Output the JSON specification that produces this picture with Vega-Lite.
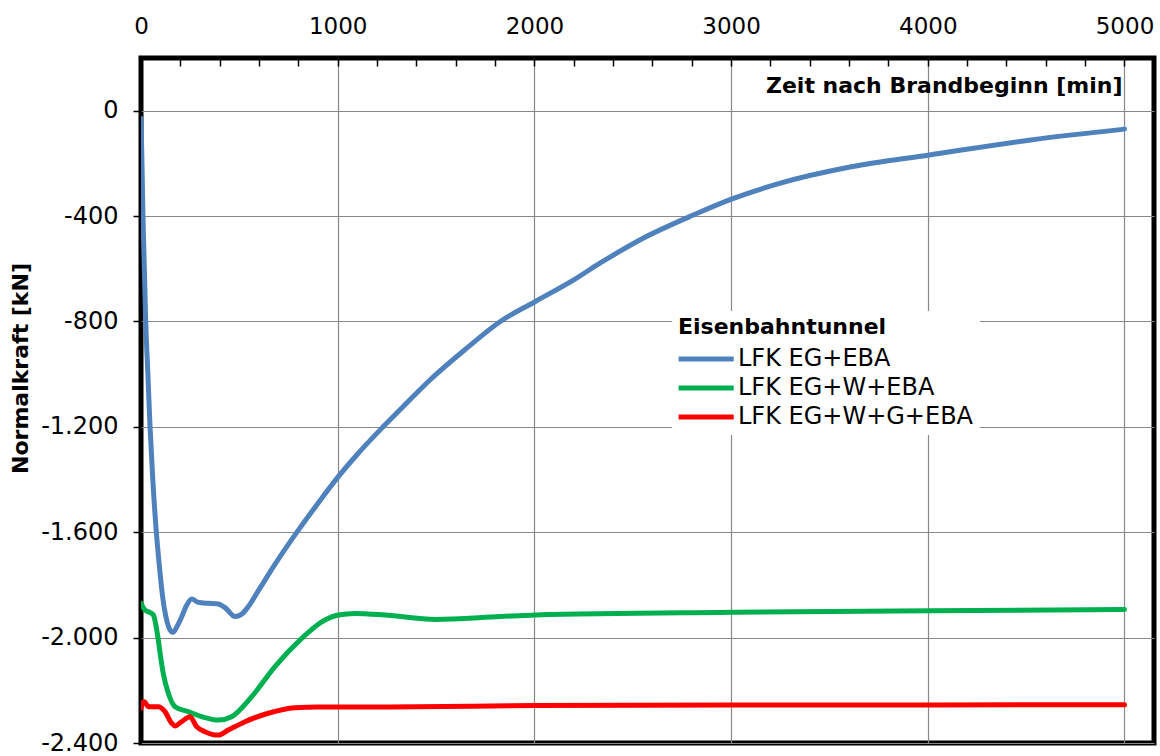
{
  "$schema": "https://vega.github.io/schema/vega-lite/v6.json",
  "width": 1013,
  "height": 685,
  "autosize": "none",
  "padding": {"left": 141, "top": 58, "right": 6, "bottom": 13},
  "background": "white",
  "config": {
    "locale": {"number": {"decimal": ",", "thousands": ".", "grouping": [3], "currency": ["", " €"], "minus": "-"}},
    "view": {"stroke": "black", "strokeWidth": 5},
    "font": "DejaVu Sans"
  },
  "data": {
    "values": [
      {"t": 0, "n": -30, "s": "LFK EG+EBA"},
      {"t": 5, "n": -200, "s": "LFK EG+EBA"},
      {"t": 10, "n": -400, "s": "LFK EG+EBA"},
      {"t": 17, "n": -600, "s": "LFK EG+EBA"},
      {"t": 24, "n": -800, "s": "LFK EG+EBA"},
      {"t": 35, "n": -1000, "s": "LFK EG+EBA"},
      {"t": 46, "n": -1200, "s": "LFK EG+EBA"},
      {"t": 60, "n": -1400, "s": "LFK EG+EBA"},
      {"t": 78, "n": -1600, "s": "LFK EG+EBA"},
      {"t": 95, "n": -1740, "s": "LFK EG+EBA"},
      {"t": 110, "n": -1845, "s": "LFK EG+EBA"},
      {"t": 125, "n": -1915, "s": "LFK EG+EBA"},
      {"t": 140, "n": -1958, "s": "LFK EG+EBA"},
      {"t": 162, "n": -1980, "s": "LFK EG+EBA"},
      {"t": 185, "n": -1955, "s": "LFK EG+EBA"},
      {"t": 207, "n": -1921, "s": "LFK EG+EBA"},
      {"t": 230, "n": -1880, "s": "LFK EG+EBA"},
      {"t": 258, "n": -1853, "s": "LFK EG+EBA"},
      {"t": 290, "n": -1866, "s": "LFK EG+EBA"},
      {"t": 340, "n": -1870, "s": "LFK EG+EBA"},
      {"t": 393, "n": -1872, "s": "LFK EG+EBA"},
      {"t": 430, "n": -1888, "s": "LFK EG+EBA"},
      {"t": 478, "n": -1920, "s": "LFK EG+EBA"},
      {"t": 510, "n": -1912, "s": "LFK EG+EBA"},
      {"t": 545, "n": -1883, "s": "LFK EG+EBA"},
      {"t": 600, "n": -1818, "s": "LFK EG+EBA"},
      {"t": 650, "n": -1758, "s": "LFK EG+EBA"},
      {"t": 700, "n": -1700, "s": "LFK EG+EBA"},
      {"t": 750, "n": -1645, "s": "LFK EG+EBA"},
      {"t": 800, "n": -1592, "s": "LFK EG+EBA"},
      {"t": 900, "n": -1490, "s": "LFK EG+EBA"},
      {"t": 1000, "n": -1392, "s": "LFK EG+EBA"},
      {"t": 1100, "n": -1304, "s": "LFK EG+EBA"},
      {"t": 1232, "n": -1199, "s": "LFK EG+EBA"},
      {"t": 1350, "n": -1110, "s": "LFK EG+EBA"},
      {"t": 1469, "n": -1022, "s": "LFK EG+EBA"},
      {"t": 1650, "n": -905, "s": "LFK EG+EBA"},
      {"t": 1825, "n": -801, "s": "LFK EG+EBA"},
      {"t": 2003, "n": -725, "s": "LFK EG+EBA"},
      {"t": 2198, "n": -643, "s": "LFK EG+EBA"},
      {"t": 2333, "n": -579, "s": "LFK EG+EBA"},
      {"t": 2550, "n": -485, "s": "LFK EG+EBA"},
      {"t": 2808, "n": -396, "s": "LFK EG+EBA"},
      {"t": 3005, "n": -335, "s": "LFK EG+EBA"},
      {"t": 3246, "n": -276, "s": "LFK EG+EBA"},
      {"t": 3611, "n": -213, "s": "LFK EG+EBA"},
      {"t": 4009, "n": -168, "s": "LFK EG+EBA"},
      {"t": 4523, "n": -111, "s": "LFK EG+EBA"},
      {"t": 5000, "n": -70, "s": "LFK EG+EBA"},

      {"t": 0, "n": -1870, "s": "LFK EG+W+EBA"},
      {"t": 20, "n": -1895, "s": "LFK EG+W+EBA"},
      {"t": 46, "n": -1905, "s": "LFK EG+W+EBA"},
      {"t": 63, "n": -1914, "s": "LFK EG+W+EBA"},
      {"t": 75, "n": -1950, "s": "LFK EG+W+EBA"},
      {"t": 88, "n": -2009, "s": "LFK EG+W+EBA"},
      {"t": 100, "n": -2075, "s": "LFK EG+W+EBA"},
      {"t": 113, "n": -2135, "s": "LFK EG+W+EBA"},
      {"t": 139, "n": -2211, "s": "LFK EG+W+EBA"},
      {"t": 173, "n": -2262, "s": "LFK EG+W+EBA"},
      {"t": 240, "n": -2281, "s": "LFK EG+W+EBA"},
      {"t": 309, "n": -2300, "s": "LFK EG+W+EBA"},
      {"t": 393, "n": -2313, "s": "LFK EG+W+EBA"},
      {"t": 461, "n": -2300, "s": "LFK EG+W+EBA"},
      {"t": 563, "n": -2224, "s": "LFK EG+W+EBA"},
      {"t": 681, "n": -2110, "s": "LFK EG+W+EBA"},
      {"t": 817, "n": -2003, "s": "LFK EG+W+EBA"},
      {"t": 919, "n": -1940, "s": "LFK EG+W+EBA"},
      {"t": 1003, "n": -1914, "s": "LFK EG+W+EBA"},
      {"t": 1088, "n": -1908, "s": "LFK EG+W+EBA"},
      {"t": 1240, "n": -1914, "s": "LFK EG+W+EBA"},
      {"t": 1496, "n": -1931, "s": "LFK EG+W+EBA"},
      {"t": 1825, "n": -1920, "s": "LFK EG+W+EBA"},
      {"t": 2006, "n": -1914, "s": "LFK EG+W+EBA"},
      {"t": 3014, "n": -1904, "s": "LFK EG+W+EBA"},
      {"t": 4016, "n": -1898, "s": "LFK EG+W+EBA"},
      {"t": 5000, "n": -1893, "s": "LFK EG+W+EBA"},

      {"t": 0, "n": -2268, "s": "LFK EG+W+G+EBA"},
      {"t": 10, "n": -2245, "s": "LFK EG+W+G+EBA"},
      {"t": 17, "n": -2243, "s": "LFK EG+W+G+EBA"},
      {"t": 37, "n": -2262, "s": "LFK EG+W+G+EBA"},
      {"t": 88, "n": -2262, "s": "LFK EG+W+G+EBA"},
      {"t": 122, "n": -2281, "s": "LFK EG+W+G+EBA"},
      {"t": 156, "n": -2325, "s": "LFK EG+W+G+EBA"},
      {"t": 173, "n": -2335, "s": "LFK EG+W+G+EBA"},
      {"t": 207, "n": -2319, "s": "LFK EG+W+G+EBA"},
      {"t": 249, "n": -2300, "s": "LFK EG+W+G+EBA"},
      {"t": 283, "n": -2338, "s": "LFK EG+W+G+EBA"},
      {"t": 325, "n": -2357, "s": "LFK EG+W+G+EBA"},
      {"t": 393, "n": -2370, "s": "LFK EG+W+G+EBA"},
      {"t": 444, "n": -2351, "s": "LFK EG+W+G+EBA"},
      {"t": 529, "n": -2319, "s": "LFK EG+W+G+EBA"},
      {"t": 647, "n": -2287, "s": "LFK EG+W+G+EBA"},
      {"t": 783, "n": -2266, "s": "LFK EG+W+G+EBA"},
      {"t": 901, "n": -2263, "s": "LFK EG+W+G+EBA"},
      {"t": 1240, "n": -2263, "s": "LFK EG+W+G+EBA"},
      {"t": 2006, "n": -2258, "s": "LFK EG+W+G+EBA"},
      {"t": 3014, "n": -2256, "s": "LFK EG+W+G+EBA"},
      {"t": 5000, "n": -2255, "s": "LFK EG+W+G+EBA"}
    ]
  },
  "mark": {"type": "line", "interpolate": "monotone", "strokeWidth": 5, "strokeCap": "round", "strokeJoin": "round", "clip": true},
  "encoding": {
    "x": {
      "field": "t",
      "type": "quantitative",
      "scale": {"domain": [0, 5150], "nice": false, "zero": false},
      "axis": {
        "orient": "top",
        "values": [0, 200, 400, 600, 800, 1000, 1200, 1400, 1600, 1800, 2000, 2200, 2400, 2600, 2800, 3000, 3200, 3400, 3600, 3800, 4000, 4200, 4400, 4600, 4800, 5000],
        "labelExpr": "datum.value % 1000 === 0 ? '' + datum.value : ''",
        "labelFont": "DejaVu Sans",
        "labelFontSize": 23,
        "labelColor": "black",
        "labelPadding": 28,
        "labelOverlap": false,
        "labelFlush": false,
        "labelBound": false,
        "tickSize": -8,
        "tickColor": "black",
        "tickWidth": 1.5,
        "domain": false,
        "grid": true,
        "gridColor": "#888888",
        "gridWidth": 1.2,
        "gridOpacity": {"condition": {"test": "datum.value % 1000 === 0 && datum.value > 0", "value": 1}, "value": 0},
        "title": "Zeit nach Brandbeginn [min]",
        "titleFont": "DejaVu Sans",
        "titleFontSize": 22,
        "titleFontWeight": "bold",
        "titleColor": "black",
        "titleX": 981,
        "titleY": 34,
        "titleAlign": "right",
        "titleBaseline": "alphabetic",
        "titleLimit": 800
      }
    },
    "y": {
      "field": "n",
      "type": "quantitative",
      "scale": {"domain": [-2400, 200], "nice": false, "zero": false},
      "axis": {
        "values": [-2400, -2000, -1600, -1200, -800, -400, 0],
        "format": ",d",
        "labelFont": "DejaVu Sans",
        "labelFontSize": 24,
        "labelColor": "black",
        "labelPadding": 15,
        "tickSize": 8,
        "tickColor": "black",
        "tickWidth": 1.5,
        "domain": false,
        "grid": true,
        "gridColor": "#888888",
        "gridWidth": 1.2,
        "title": "Normalkraft [kN]",
        "titleFont": "DejaVu Sans",
        "titleFontSize": 22,
        "titleFontWeight": "bold",
        "titleColor": "black",
        "titleX": -121,
        "titleY": 310,
        "titleAngle": -90,
        "titleAlign": "center",
        "titleBaseline": "middle",
        "titleLimit": 800
      }
    },
    "color": {
      "field": "s",
      "type": "nominal",
      "scale": {"domain": ["LFK EG+EBA", "LFK EG+W+EBA", "LFK EG+W+G+EBA"], "range": ["#4F81BD", "#00B050", "#FF0000"]},
      "legend": {
        "orient": "none",
        "legendX": 531,
        "legendY": 253,
        "title": "Eisenbahntunnel",
        "titleFont": "DejaVu Sans",
        "titleFontSize": 22,
        "titleFontWeight": "bold",
        "titleColor": "black",
        "titleLimit": 500,
        "titlePadding": 8,
        "labelFont": "DejaVu Sans",
        "labelFontSize": 24,
        "labelColor": "black",
        "labelLimit": 500,
        "labelOffset": 36,
        "symbolType": "M-1.2,0H4.6",
        "symbolSize": 361,
        "symbolStrokeWidth": 5,
        "rowPadding": 5,
        "fillColor": "white",
        "padding": 6
      }
    }
  }
}
